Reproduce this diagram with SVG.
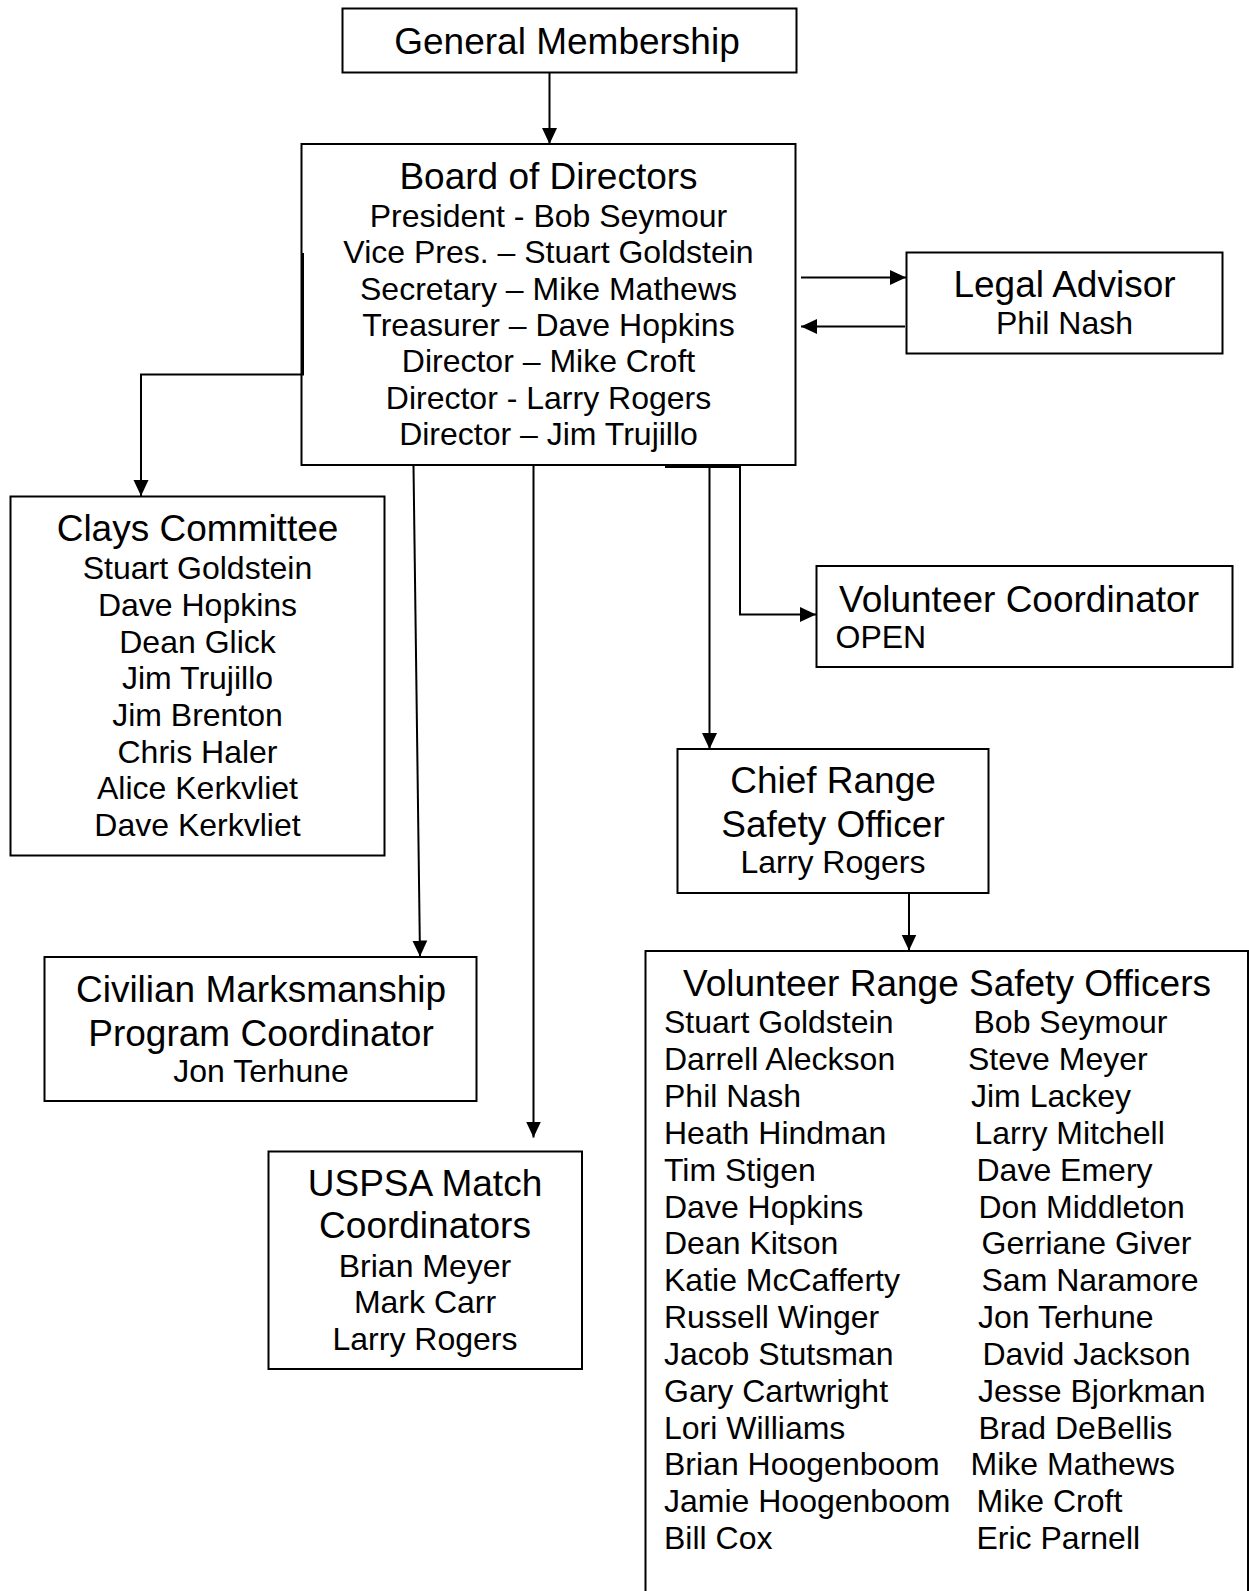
<svg xmlns="http://www.w3.org/2000/svg" width="1249" height="1591" viewBox="0 0 1249 1591">
<style>
.box{fill:#fff;stroke:#000;stroke-width:2}
.t{font-family:"Liberation Sans",Arial,sans-serif;font-size:37px;fill:#000}
.n{font-family:"Liberation Sans",Arial,sans-serif;font-size:32px;fill:#000}
.c{text-anchor:middle}
.ln{fill:none;stroke:#000;stroke-width:2}
</style>
<defs>
<marker id="ah" markerUnits="userSpaceOnUse" markerWidth="17" markerHeight="17" refX="16" refY="8" orient="auto">
<path d="M0,0.5 L16,8 L0,15.5 z" fill="#000"/>
</marker>
</defs>
<rect width="1249" height="1591" fill="#fff"/>

<g id="general-membership">
<rect class="box" x="342.5" y="8.5" width="454" height="64"/>
<text class="t c" x="567" y="54">General Membership</text>
</g>

<g id="board">
<rect class="box" x="301.5" y="144" width="494" height="321"/>
<text class="t c" x="548.5" y="189">Board of Directors</text>
<text class="n c" x="548.5" y="226.7">President - Bob Seymour</text>
<text class="n c" x="548.5" y="263.1">Vice Pres. – Stuart Goldstein</text>
<text class="n c" x="548.5" y="299.5">Secretary – Mike Mathews</text>
<text class="n c" x="548.5" y="335.9">Treasurer – Dave Hopkins</text>
<text class="n c" x="548.5" y="372.3">Director – Mike Croft</text>
<text class="n c" x="548.5" y="408.7">Director - Larry Rogers</text>
<text class="n c" x="548.5" y="445.1">Director – Jim Trujillo</text>
</g>

<g id="legal">
<rect class="box" x="906.5" y="252.5" width="316" height="101"/>
<text class="t c" x="1064.5" y="296.7">Legal Advisor</text>
<text class="n c" x="1064.5" y="334">Phil Nash</text>
</g>

<g id="clays">
<rect class="box" x="10.5" y="496.5" width="374" height="359"/>
<text class="t c" x="197.5" y="540.7">Clays Committee</text>
<text class="n c" x="197.5" y="579.3">Stuart Goldstein</text>
<text class="n c" x="197.5" y="616">Dave Hopkins</text>
<text class="n c" x="197.5" y="652.7">Dean Glick</text>
<text class="n c" x="197.5" y="689.3">Jim Trujillo</text>
<text class="n c" x="197.5" y="726">Jim Brenton</text>
<text class="n c" x="197.5" y="762.7">Chris Haler</text>
<text class="n c" x="197.5" y="799.3">Alice Kerkvliet</text>
<text class="n c" x="197.5" y="836">Dave Kerkvliet</text>
</g>

<g id="volunteer-coordinator">
<rect class="box" x="816.5" y="566" width="416" height="101"/>
<text class="t" x="839" y="612.3">Volunteer Coordinator</text>
<text class="n" x="835.5" y="648.3">OPEN</text>
</g>

<g id="chief-rso">
<rect class="box" x="677.5" y="749" width="311" height="144"/>
<text class="t c" x="833" y="793.3">Chief Range</text>
<text class="t c" x="833" y="836.7">Safety Officer</text>
<text class="n c" x="833" y="872.7">Larry Rogers</text>
</g>

<g id="civilian">
<rect class="box" x="44.5" y="957" width="432" height="144"/>
<text class="t c" x="261" y="1001.7">Civilian Marksmanship</text>
<text class="t c" x="261" y="1045.7">Program Coordinator</text>
<text class="n c" x="261" y="1082.3">Jon Terhune</text>
</g>

<g id="uspsa">
<rect class="box" x="268.5" y="1151.5" width="313.5" height="217.5"/>
<text class="t c" x="425" y="1196">USPSA Match</text>
<text class="t c" x="425" y="1238.3">Coordinators</text>
<text class="n c" x="425" y="1276.7">Brian Meyer</text>
<text class="n c" x="425" y="1313.3">Mark Carr</text>
<text class="n c" x="425" y="1350">Larry Rogers</text>
</g>

<g id="vrso">
<rect class="box" x="645.5" y="951" width="602.5" height="700"/>
<text class="t c" x="947" y="995.6">Volunteer Range Safety Officers</text>
<g class="n">
<text x="664" y="1033.3">Stuart Goldstein</text>
<text x="664" y="1070.1">Darrell Aleckson</text>
<text x="664" y="1107">Phil Nash</text>
<text x="664" y="1143.8">Heath Hindman</text>
<text x="664" y="1180.7">Tim Stigen</text>
<text x="664" y="1217.5">Dave Hopkins</text>
<text x="664" y="1254.3">Dean Kitson</text>
<text x="664" y="1291.2">Katie McCafferty</text>
<text x="664" y="1328">Russell Winger</text>
<text x="664" y="1364.9">Jacob Stutsman</text>
<text x="664" y="1401.7">Gary Cartwright</text>
<text x="664" y="1438.5">Lori Williams</text>
<text x="664" y="1475.4">Brian Hoogenboom</text>
<text x="664" y="1512.2">Jamie Hoogenboom</text>
<text x="664" y="1549">Bill Cox</text>
<text x="973.5" y="1033.3">Bob Seymour</text>
<text x="968" y="1070.1">Steve Meyer</text>
<text x="971" y="1107">Jim Lackey</text>
<text x="974.5" y="1143.8">Larry Mitchell</text>
<text x="976.5" y="1180.7">Dave Emery</text>
<text x="978.5" y="1217.5">Don Middleton</text>
<text x="981.5" y="1254.3">Gerriane Giver</text>
<text x="981.5" y="1291.2">Sam Naramore</text>
<text x="978" y="1328">Jon Terhune</text>
<text x="982.5" y="1364.9">David Jackson</text>
<text x="978" y="1401.7">Jesse Bjorkman</text>
<text x="978.5" y="1438.5">Brad DeBellis</text>
<text x="970.5" y="1475.4">Mike Mathews</text>
<text x="976.5" y="1512.2">Mike Croft</text>
<text x="976.5" y="1549">Eric Parnell</text>
</g>
</g>

<g id="connectors">
<path class="ln" d="M549.5,72.5 V144" marker-end="url(#ah)"/>
<path class="ln" d="M801,277.5 H906" marker-end="url(#ah)"/>
<path class="ln" d="M905,326.5 H801" marker-end="url(#ah)"/>
<path class="ln" d="M303,253 V374.5 H141 V496" marker-end="url(#ah)"/>
<path class="ln" d="M413.5,466 L420,956.5" marker-end="url(#ah)"/>
<path class="ln" d="M533.5,466 V1137.5" marker-end="url(#ah)"/>
<path class="ln" d="M665,467 H740"/>
<path class="ln" d="M709.5,466 V749" marker-end="url(#ah)"/>
<path class="ln" d="M740,466 V614.5 H816" marker-end="url(#ah)"/>
<path class="ln" d="M909,893 V950.5" marker-end="url(#ah)"/>
</g>
</svg>
